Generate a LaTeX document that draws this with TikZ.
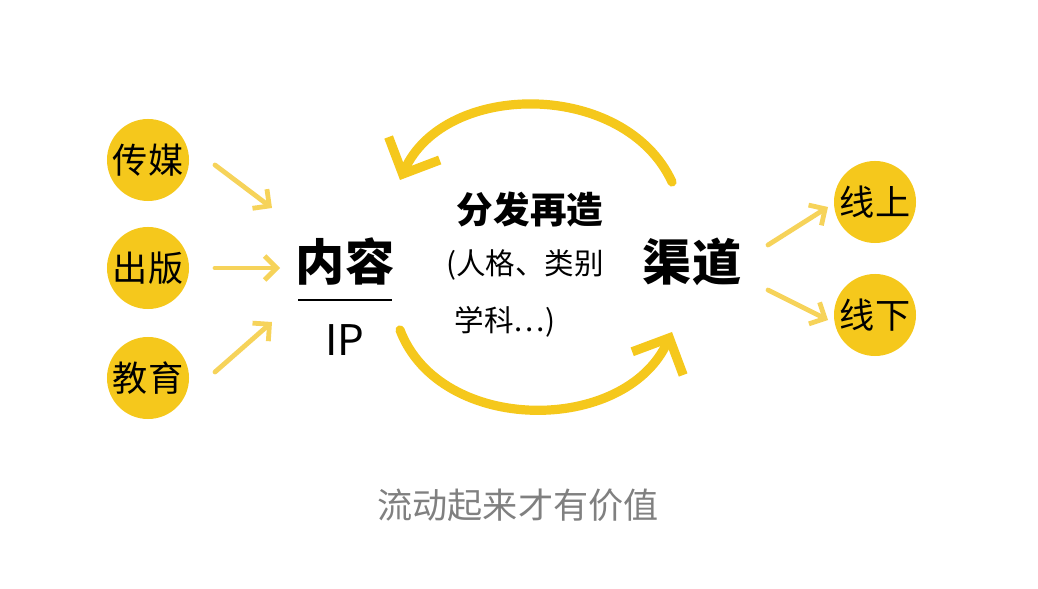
\documentclass[tikz,border=0pt]{standalone}
\usepackage{fontspec}
\newfontfamily\cjk{Noto Sans CJK SC}
\usetikzlibrary{arrows.meta}
\definecolor{gold}{HTML}{F5C81C}
\definecolor{lightgold}{HTML}{F6D35A}
\begin{document}
\begin{tikzpicture}[x=0.025cm,y=-0.025cm]
	\tikzstyle{place}=[circle, fill=gold, minimum size=2.05cm, inner sep=0pt, font=\cjk\fontsize{25}{25}\selectfont]
	\tikzstyle{small}=[lightgold, line width=1.2mm, line cap=round, -{Straight Barb[length=3mm,width=6mm]}]
	\tikzstyle{big}=[gold, line width=2.3mm, line cap=round, -{Straight Barb[length=7mm,width=14mm]}]
	\useasboundingbox (0,0) rectangle (1038,589);
	% Left
	\node at (148,160) [place] (left_1) {传媒};
	\node at (148,268) [place] (left_2) {出版};
	\node at (148,378) [place] (left_3) {教育};
	% Right
	\node at (875,202) [place] (right_1) {线上};
	\node at (875,315) [place] (right_2) {线下};
	% Centre
	\node at (345,262) [font=\cjk\bfseries\fontsize{35}{35}\selectfont] (content) {内容};
	\node at (345,340) [font=\cjk\fontsize{30}{30}\selectfont] (ip) {IP};
	\draw [line width=0.8pt] (298,300) -- (392,300);
	\node at (692,262) [font=\cjk\bfseries\fontsize{35}{35}\selectfont] (channel) {渠道};
	\node at (530,210) [font=\cjk\bfseries\fontsize{26}{26}\selectfont] (redo) {分发再造};
	\node at (525,265) [font=\cjk\fontsize{21}{21}\selectfont] (kind) {(人格、类别};
	\node at (505,322) [font=\cjk\fontsize{21}{21}\selectfont] (subject) {学科…)};
	\node at (518,505) [text=gray, font=\cjk\fontsize{25}{25}\selectfont] (caption) {流动起来才有价值};
	%---------------------%
	\coordinate (a_1) at (215,165); \coordinate (b_1) at (272,208);
	\coordinate (a_2) at (215,268); \coordinate (b_2) at (280,268);
	\coordinate (a_3) at (215,372); \coordinate (b_3) at (272,322);
	\coordinate (c_1) at (768,245); \coordinate (d_1) at (828,207);
	\coordinate (c_2) at (768,290); \coordinate (d_2) at (828,320);
	\foreach \i in {1,...,3}
		\draw [small] (a_\i) to (b_\i);
	\foreach \i in {1,...,2}
		\draw [small] (c_\i) to (d_\i);
	% Loop
	\coordinate (top_s) at (672,182); \coordinate (top_e) at (400,180);
	\coordinate (bot_s) at (400,330); \coordinate (bot_e) at (672,332);
	\draw [big] (top_s) .. controls (625,80) and (445,80) .. (top_e);
	\draw [big] (bot_s) .. controls (440,435) and (625,435) .. (bot_e);
\end{tikzpicture}
\end{document}
